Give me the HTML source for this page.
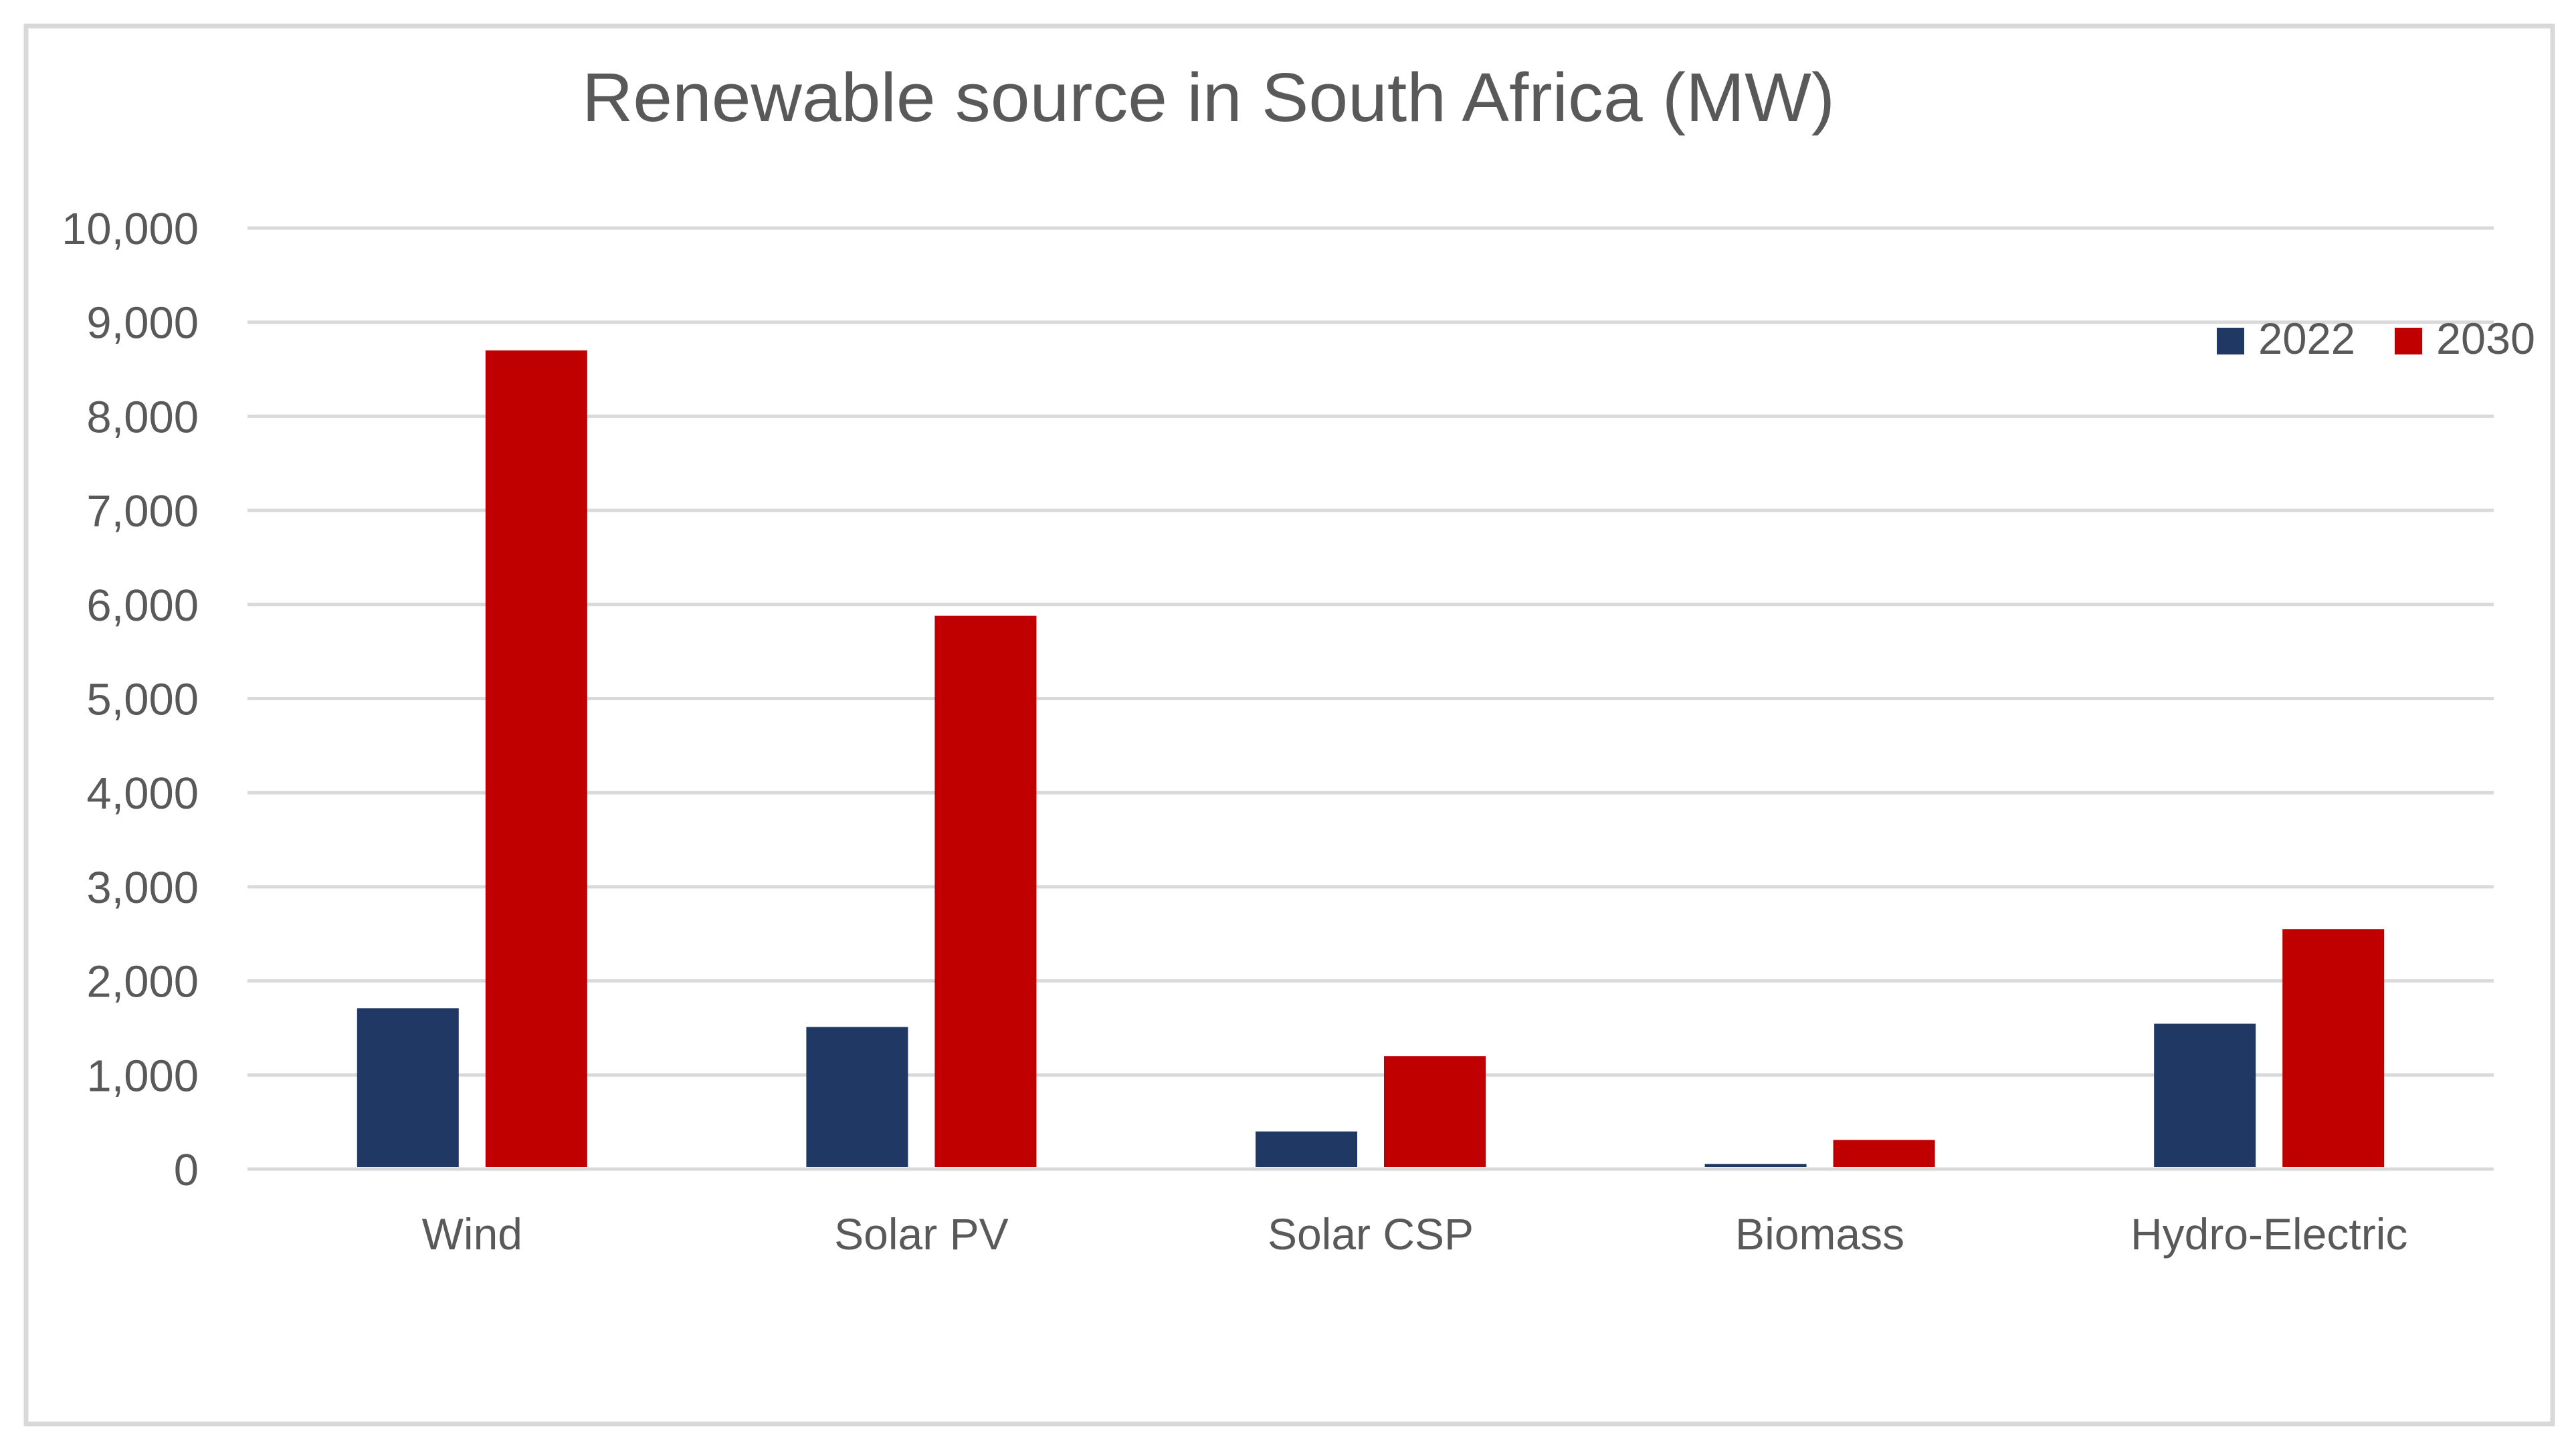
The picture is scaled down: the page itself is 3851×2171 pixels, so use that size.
<!DOCTYPE html>
<html><head><meta charset="utf-8"><style>
html,body{margin:0;padding:0;background:#fff;}
svg{display:block;}
text{font-family:"Liberation Sans",sans-serif;fill:#595959;}
</style></head><body>
<svg id="chart" width="3851" height="2171" viewBox="0 0 3851 2171" xmlns="http://www.w3.org/2000/svg">
<rect x="39" y="39" width="3777" height="2090" fill="#fff" stroke="#d9d9d9" stroke-width="7"/>
<text x="870" y="181" font-size="103" textLength="1873" lengthAdjust="spacingAndGlyphs">Renewable source in South Africa (MW)</text>
<g id="grid"></g><g id="bars"></g><g id="labels"></g>
<g>
<rect x="3314" y="490" width="41" height="40" fill="#203864"/>
<text x="3376" y="529" font-size="66" textLength="145" lengthAdjust="spacingAndGlyphs">2022</text>
<rect x="3580" y="490" width="41" height="40" fill="#c00000"/>
<text x="3642" y="529" font-size="66" textLength="148" lengthAdjust="spacingAndGlyphs">2030</text>
</g>
</svg>
<script>
const categories = ["Wind","Solar PV","Solar CSP","Biomass","Hydro-Electric"];
const values2022 = [1710,1510,400,55,1545];
const values2030 = [8700,5880,1200,310,2550];
const tickValues = [0,1000,2000,3000,4000,5000,6000,7000,8000,9000,10000];
const tickLabels = ["0","1,000","2,000","3,000","4,000","5,000","6,000","7,000","8,000","9,000","10,000"];

const NS="http://www.w3.org/2000/svg";
const X0=370, X1=3728, Y0=1748, Y1=341, VMAX=10000;
const y = v => Y0 - (v/VMAX)*(Y0-Y1);
const band = (X1-X0)/categories.length;
const xc = i => X0 + band*(i+0.5);
const BW=152, GAP=40;
function mk(tag, attrs, parent){const e=document.createElementNS(NS,tag);for(const k in attrs)e.setAttribute(k,attrs[k]);parent.appendChild(e);return e;}
const grid=document.getElementById('grid'), bars=document.getElementById('bars'), labels=document.getElementById('labels');
tickValues.forEach((t,i)=>{
  const l=mk('line',{x1:X0,x2:X1,y1:y(t),y2:y(t),stroke:'#d9d9d9','stroke-width':5},grid);
  
  
  const tx=mk('text',{x:297,y:y(t)+24,'font-size':67,'text-anchor':'end'},labels);
  tx.textContent=tickLabels[i];
  
  
});
categories.forEach((c,i)=>{
  const b1=mk('rect',{x:xc(i)-GAP/2-BW,y:y(values2022[i]),width:BW,height:Y0-y(values2022[i])-3,fill:'#203864'},bars);
  
  
  const b2=mk('rect',{x:xc(i)+GAP/2,y:y(values2030[i]),width:BW,height:Y0-y(values2030[i])-3,fill:'#c00000'},bars);
  
  
  const t=mk('text',{x:xc(i),y:1868,'font-size':66,'text-anchor':'middle'},labels);
  t.textContent=c;
  
  
});
</script>
</body></html>
